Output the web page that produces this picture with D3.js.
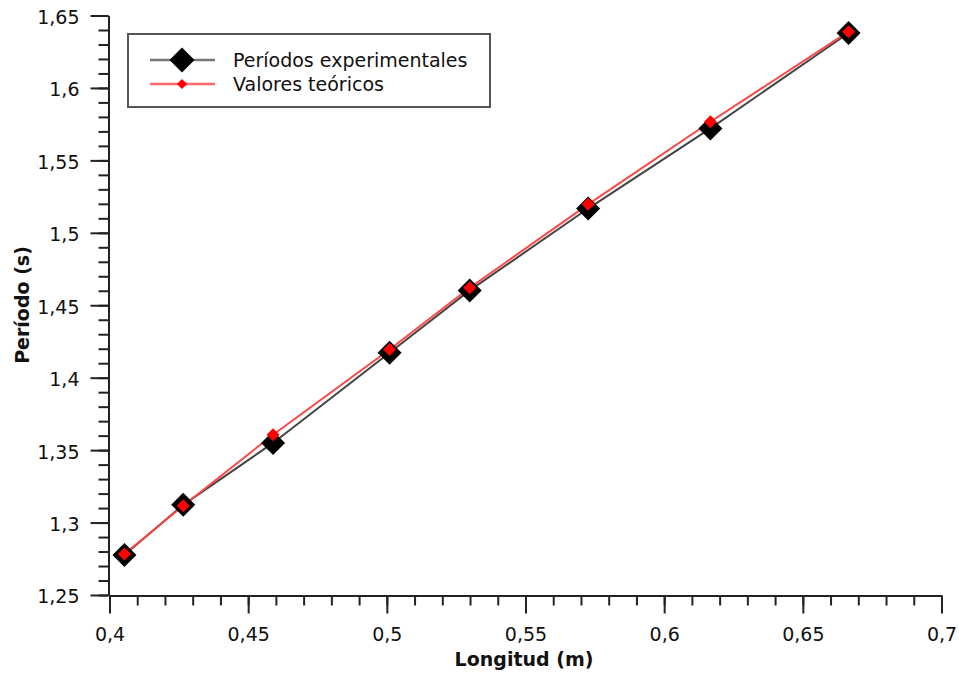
<!DOCTYPE html>
<html>
<head>
<meta charset="utf-8">
<script src="https://cdn.jsdelivr.net/npm/d3@7"></script>
<style>
  html, body { margin: 0; padding: 0; background: #fff; }
  svg { display: block; font-family: "DejaVu Sans", Verdana, sans-serif; }
</style>
</head>
<body>
<svg id="chart" width="959" height="673"></svg>
<script>
// Data
const longitudes = [0.4052, 0.4264, 0.4588, 0.5008, 0.5297, 0.5724, 0.6165, 0.6663];
const periodosExperimentales = [1.2780, 1.3126, 1.3553, 1.4175, 1.4606, 1.5171, 1.5724, 1.6383];
const valoresTeoricos = [1.2787, 1.3120, 1.3610, 1.4198, 1.4624, 1.5200, 1.5770, 1.6392];
const seriesNames = ["Períodos experimentales", "Valores teóricos"];
const xTicks = [0.4, 0.45, 0.5, 0.55, 0.6, 0.65, 0.7];
const yTicks = [1.25, 1.3, 1.35, 1.4, 1.45, 1.5, 1.55, 1.6, 1.65];
const xTitle = "Longitud (m)";
const yTitle = "Período (s)";

const svg = d3.select("#chart");
const x = d3.scaleLinear().domain([0.4, 0.7]).range([109.5, 941.5]);
const y = d3.scaleLinear().domain([1.25, 1.65]).range([595, 15.5]);
const fmt = d => String(+d.toFixed(2)).replace(".", ",");
const FS = 19;

// minor ticks
const xMinor = d3.range(0, 31).map(i => 0.4 + i * 0.01);
const yMinor = d3.range(0, 41).map(i => 1.25 + i * 0.01);

const gxMinor = svg.append("g").attr("transform", "translate(0,595.5)")
  .call(d3.axisBottom(x).tickValues(xMinor).tickSize(10).tickSizeOuter(0).tickFormat(""));
const gx = svg.append("g").attr("transform", "translate(0,595.5)")
  .call(d3.axisBottom(x).tickValues(xTicks).tickSize(18).tickSizeOuter(0).tickPadding(14).tickFormat(fmt));

const gyMinor = svg.append("g").attr("transform", "translate(108.5,0)")
  .call(d3.axisLeft(y).tickValues(yMinor).tickSize(10).tickSizeOuter(0).tickFormat(""));
const gy = svg.append("g").attr("transform", "translate(108.5,0)")
  .call(d3.axisLeft(y).tickValues(yTicks).tickSize(18).tickSizeOuter(0).tickPadding(11).tickFormat(fmt));

svg.selectAll(".domain, .tick line").attr("stroke", "#222").attr("stroke-width", 2);
svg.selectAll(".tick text").attr("fill", "#111").style("font-size", FS + "px")
  .style("font-family", "'DejaVu Sans', Verdana, sans-serif");
gy.selectAll(".tick text").attr("dy", "0.42em");

// axis titles
svg.append("text").attr("x", 524).attr("y", 666).attr("text-anchor", "middle")
  .style("font-size", FS + "px").style("font-weight", "bold").attr("fill", "#111").text(xTitle);
svg.append("text").attr("transform", "translate(29,305) rotate(-90)").attr("text-anchor", "middle")
  .style("font-size", FS + "px").style("font-weight", "bold").attr("fill", "#111").text(yTitle);

const expData = longitudes.map((l, i) => [l, periodosExperimentales[i]]);
const teoData = longitudes.map((l, i) => [l, valoresTeoricos[i]]);
const line = d3.line().x(d => x(d[0]) + 0.5).y(d => y(d[1]) + 0.5);
const diamond = (cx, cy, r) => `M${cx},${cy - r}L${cx + r},${cy}L${cx},${cy + r}L${cx - r},${cy}Z`;

// experimental
svg.append("path").datum(expData).attr("d", line).attr("fill", "none")
  .attr("stroke", "#444").attr("stroke-width", 2);
// theoretical line
svg.append("path").datum(teoData).attr("d", line).attr("fill", "none")
  .attr("stroke", "#ff4646").attr("stroke-width", 2);

svg.append("g").selectAll("path").data(expData).join("path")
  .attr("d", d => diamond(x(d[0]) + 0.5, y(d[1]) + 0.5, 12)).attr("fill", "#000");
svg.append("g").selectAll("path").data(teoData).join("path")
  .attr("d", d => diamond(x(d[0]) + 0.5, y(d[1]) + 0.5, 6.5)).attr("fill", "#ff0000");

// legend
const lg = svg.append("g");
lg.append("rect").attr("x", 128).attr("y", 34).attr("width", 362).attr("height", 73)
  .attr("fill", "#fff").attr("stroke", "#555").attr("stroke-width", 2);
const rows = [
  { name: seriesNames[0], y: 60, stroke: "#777", fill: "#000", r: 12.5 },
  { name: seriesNames[1], y: 84, stroke: "#ff6a6a", fill: "#ff0000", r: 5 }
];
rows.forEach(r => {
  lg.append("line").attr("x1", 150).attr("x2", 215).attr("y1", r.y).attr("y2", r.y)
    .attr("stroke", r.stroke).attr("stroke-width", 2.5);
  lg.append("path").attr("d", diamond(182, r.y, r.r)).attr("fill", r.fill);
  lg.append("text").attr("x", 233).attr("y", r.y + 7).style("font-size", FS + "px")
    .attr("fill", "#111").text(r.name);
});
</script>
</body>
</html>
